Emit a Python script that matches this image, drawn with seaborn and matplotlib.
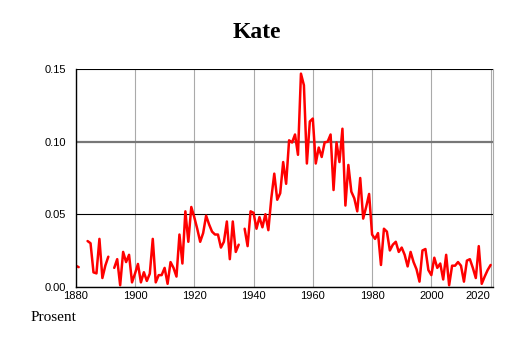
import numpy as np
import pandas as pd
import matplotlib
matplotlib.use("Agg")
import matplotlib.pyplot as plt
from matplotlib.ticker import MultipleLocator
import seaborn as sns

nan = np.nan

years = list(range(1880, 2021))
share = [
    0.0145, 0.0135, nan, nan, 0.0315, 0.030, 0.0099, 0.0092, 0.033, 0.006,     # 1880s
    0.0146, 0.0207, nan, 0.013, 0.019, 0.001, 0.024, 0.017, 0.022, 0.003,      # 1890s
    0.009, 0.0157, 0.003, 0.010, 0.004, 0.009, 0.033, 0.003, 0.008, 0.008,     # 1900s
    0.013, 0.002, 0.017, 0.013, 0.007, 0.036, 0.016, 0.052, 0.031, 0.055,      # 1910s
    0.048, 0.040, 0.031, 0.037, 0.049, 0.043, 0.038, 0.036, 0.036, 0.027,      # 1920s
    0.031, 0.045, 0.019, 0.045, 0.024, 0.029, nan, 0.040, 0.028, 0.052,        # 1930s
    0.051, 0.040, 0.048, 0.041, 0.050, 0.039, 0.061, 0.078, 0.060, 0.0645,     # 1940s
    0.086, 0.071, 0.101, 0.0995, 0.105, 0.091, 0.147, 0.139, 0.085, 0.114,     # 1950s
    0.116, 0.085, 0.096, 0.0895, 0.0996, 0.100, 0.105, 0.0667, 0.0996, 0.086,  # 1960s
    0.109, 0.056, 0.084, 0.0656, 0.061, 0.052, 0.075, 0.047, 0.055, 0.064,     # 1970s
    0.036, 0.033, 0.037, 0.015, 0.040, 0.038, 0.025, 0.029, 0.031, 0.024,      # 1980s
    0.027, 0.022, 0.014, 0.024, 0.017, 0.012, 0.0035, 0.025, 0.026, 0.0115,    # 1990s
    0.008, 0.020, 0.013, 0.016, 0.005, 0.022, 0.001, 0.0145, 0.0145, 0.017,    # 2000s
    0.0145, 0.0035, 0.018, 0.019, 0.013, 0.006, 0.028, 0.002, 0.007, 0.0115,   # 2010s
    0.015,                                                                     # 2020
]
x_ticks = [1880, 1900, 1920, 1940, 1960, 1980, 2000, 2020]
y_ticks = [0.00, 0.05, 0.10, 0.15]

df = pd.DataFrame({"year": years, "share": share})
# split into runs so missing years leave gaps in the line
df["run"] = df["share"].isna().cumsum()
df = df.dropna()

sns.set_style("white")
plt.rcParams["font.family"] = ["Liberation Sans", "DejaVu Sans"]
plt.rcParams["text.color"] = "black"
plt.rcParams["xtick.color"] = "black"
plt.rcParams["ytick.color"] = "black"

fig = plt.figure(figsize=(5.14, 3.43), dpi=100)
ax = fig.add_axes([0.1473, 0.1641, 0.8124, 0.6339])

sns.lineplot(data=df, x="year", y="share", units="run", estimator=None,
             color="#ff0000", lw=1.8, ax=ax, legend=False)

ax.set_xlim(1880.4, 2020.9)
ax.set_ylim(0, 0.15)
ax.set_xticks(x_ticks)
ax.set_yticks(y_ticks)
ax.set_yticklabels([f"{v:.2f}" for v in y_ticks])
ax.xaxis.set_minor_locator(MultipleLocator(5))
ax.set_xlabel("")
ax.set_ylabel("")

ax.grid(True, axis="x", color="#aaaaaa", lw=0.8)
ax.grid(True, axis="y", color="black", lw=0.8)
ax.get_ygridlines()[2].set(color="#777777", lw=1.6)
ax.set_axisbelow(True)

ax.tick_params(axis="both", which="major", labelsize=8, length=3,
               direction="in", color="black", labelcolor="black")
ax.tick_params(axis="y", which="major", pad=7)
ax.tick_params(axis="x", which="major", pad=3)
ax.tick_params(axis="x", which="minor", length=3, direction="in", color="black")
labels = ax.get_xticklabels()
labels[-1].set_horizontalalignment("right")

for side in ["left", "bottom"]:
    ax.spines[side].set_color("black")
    ax.spines[side].set_linewidth(1.0)
ax.spines["top"].set_visible(False)
ax.spines["right"].set_color("#aaaaaa")
ax.spines["right"].set_linewidth(0.8)

fig.text(0.5, 0.904, "Kate", ha="center", va="center", fontsize=17,
         fontweight="bold", color="black",
         family=["Liberation Serif", "DejaVu Serif"])
fig.text(0.060, 0.073, "Prosent", ha="left", va="center", fontsize=11,
         color="black", family=["Liberation Serif", "DejaVu Serif"])

fig.savefig("out.png", dpi=100, facecolor="white")
